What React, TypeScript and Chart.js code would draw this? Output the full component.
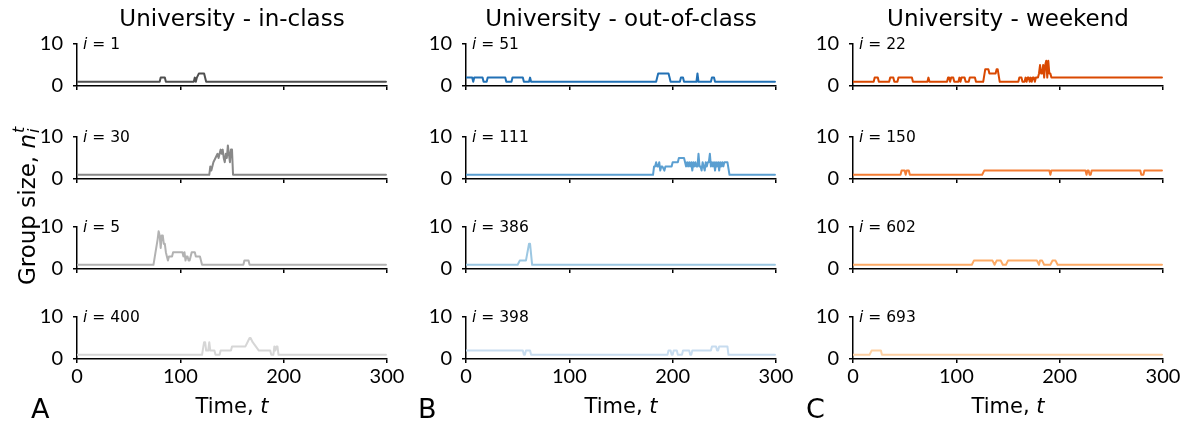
import React, { useEffect, useRef } from 'react';
import { Chart, registerables } from 'chart.js';

Chart.register(...registerables);

type Pt = [number, number];

// Group size n_i(t) of selected individuals, as the corner points [t, n] of each trace.
const inClassI1: Pt[] = [[0,1],[80,1],[81,2],[85,2],[86,1],[113,1],[114,2],[115,1],[116,2],[118,3],[123,3],[125,1],[299,1]];
const inClassI30: Pt[] = [[0,1],[128,1],[129,3],[130,2],[132,4],[134,5],[136,6],[137,5],[139,7],[140,6],[141,7],[142,5],[143,4],[144,6],[145,5],[146,8],[147,6],[148,4],[149,7],[150,7],[151,1],[299,1]];
const inClassI5: Pt[] = [[0,1],[74,1],[76,4],[78,7],[79,9],[80,8],[81,5],[82,8],[83,8],[84,6],[85,6],[86,4],[87,3],[88,2],[89,3],[92,3],[93,4],[102,4],[103,3],[104,4],[105,2],[106,3],[107,3],[108,2],[109,2],[111,4],[114,4],[115,3],[119,3],[121,1],[161,1],[162,2],[166,2],[167,1],[299,1]];
const inClassI400: Pt[] = [[0,1],[121,1],[123,4],[124,4],[125,2],[127,2],[128,4],[129,2],[133,2],[134,1],[138,1],[139,2],[149,2],[150,3],[163,3],[165,4],[167,5],[168,5],[170,4],[173,3],[176,2],[187,2],[188,1],[190,1],[191,3],[192,2],[193,3],[194,3],[195,1],[299,1]];

const outClassI51: Pt[] = [[0,2],[6,2],[7,1],[8,2],[16,2],[17,1],[20,1],[21,2],[38,2],[39,1],[44,1],[45,2],[55,2],[56,1],[61,1],[62,2],[63,1],[184,1],[185,2],[186,3],[196,3],[197,2],[198,1],[207,1],[208,2],[210,2],[211,1],[223,1],[224,3],[225,1],[237,1],[238,2],[240,2],[241,1],[299,1]];
const outClassI111: Pt[] = [[0,1],[181,1],[182,3],[183,3],[184,4],[185,3],[186,3],[187,4],[188,2],[189,3],[190,3],[192,2],[193,3],[199,3],[200,4],[205,4],[206,5],[211,5],[212,4],[213,3],[214,4],[215,3],[216,4],[217,3],[218,4],[219,2],[220,4],[221,3],[222,4],[223,3],[224,3],[225,6],[226,3],[227,3],[228,2],[229,4],[230,3],[231,2],[232,4],[233,3],[234,4],[235,4],[236,6],[237,3],[238,4],[239,3],[240,4],[241,2],[242,4],[243,3],[244,4],[245,2],[246,4],[247,3],[248,4],[249,3],[250,4],[253,4],[255,1],[299,1]];
const outClassI386: Pt[] = [[0,1],[50,1],[52,2],[58,2],[61,6],[62,6],[64,1],[299,1]];
const outClassI398: Pt[] = [[0,2],[55,2],[56,1],[57,1],[58,2],[62,2],[63,1],[195,1],[196,2],[198,2],[199,1],[200,1],[201,2],[204,2],[205,1],[209,1],[210,2],[216,2],[217,1],[218,1],[219,2],[237,2],[238,3],[242,3],[243,2],[244,2],[245,3],[253,3],[254,1],[299,1]];

const weekendI22: Pt[] = [[0,1],[20,1],[21,2],[24,2],[25,1],[35,1],[36,2],[39,2],[40,1],[43,1],[44,2],[57,2],[58,1],[72,1],[73,2],[74,1],[91,1],[92,2],[93,2],[94,1],[95,2],[97,2],[98,1],[102,1],[103,2],[104,1],[105,2],[108,2],[109,1],[112,1],[113,2],[118,2],[119,1],[126,1],[128,4],[131,4],[132,3],[138,3],[139,4],[140,4],[142,1],[160,1],[161,2],[163,2],[164,1],[166,1],[167,2],[168,1],[169,2],[170,2],[171,1],[172,2],[173,1],[174,2],[175,2],[176,1],[177,2],[179,2],[180,3],[181,5],[182,3],[183,3],[184,5],[185,2],[186,5],[187,6],[188,2],[189,6],[190,3],[191,3],[192,2],[299,2]];
const weekendI150: Pt[] = [[0,1],[46,1],[47,2],[50,2],[51,1],[52,2],[54,2],[55,1],[125,1],[127,2],[190,2],[191,1],[192,2],[225,2],[226,1],[227,2],[228,2],[229,1],[230,1],[231,2],[278,2],[279,1],[281,1],[282,2],[299,2]];
const weekendI602: Pt[] = [[0,1],[115,1],[117,2],[135,2],[137,1],[139,2],[143,2],[145,1],[148,1],[150,2],[178,2],[180,1],[181,2],[183,2],[185,1],[191,1],[193,2],[196,2],[198,1],[299,1]];
const weekendI693: Pt[] = [[0,1],[16,1],[18,2],[27,2],[28,1],[299,1]];

const columnTitles = ['University - in-class', 'University - out-of-class', 'University - weekend'];
const columnLetters = ['A', 'B', 'C'];
const columnSeries: Pt[][][] = [
  [inClassI1, inClassI30, inClassI5, inClassI400],
  [outClassI51, outClassI111, outClassI386, outClassI398],
  [weekendI22, weekendI150, weekendI602, weekendI693],
];
const columnIds: number[][] = [
  [1, 30, 5, 400],
  [51, 111, 386, 398],
  [22, 150, 602, 693],
];
const columnColors: string[][] = [
  ['#4f4f4f', '#888888', '#b2b2b2', '#d6d6d6'],
  ['#2271b5', '#5b9fd1', '#9cc7e2', '#c7dcef'],
  ['#d94801', '#f47d33', '#fdab66', '#fdd0a2'],
];

const T_MAX = 300;
const T_STEP = 100;
const N_MAX = 10;

// layout (px)
const PLOT_LEFT = [77, 466, 853];
const PLOT_TOP = [34, 127, 217, 307];
const PLOT_W = 310;
const PLOT_H = 52;
const AX_W = 70;
const AX_H = 40;
const PAD_T = 12;
const PAD_R = 30;
const CANVAS_W = AX_W + PLOT_W + PAD_R;
const CANVAS_H = PAD_T + PLOT_H + AX_H;

const TEXT_FONT = '"DejaVu Sans", sans-serif';
const TICK_FONT = 'Lato';
const TICK_SIZE = 20;

function Panel({ points, color, left, top, showX }: { points: Pt[]; color: string; left: number; top: number; showX: boolean }) {
  const ref = useRef<HTMLCanvasElement>(null);
  useEffect(() => {
    const axisCommon = {
      grid: { display: true, drawOnChartArea: false, drawTicks: true, tickLength: 4, color: '#000', lineWidth: 1.5 },
      border: { display: true, color: '#000', width: 1.5 },
    };
    const chart = new Chart(ref.current!, {
      type: 'line',
      data: {
        datasets: [{
          data: points.map(([x, y]) => ({ x, y })),
          borderColor: color,
          borderWidth: 2,
          borderJoinStyle: 'round',
          borderCapStyle: 'round',
          pointRadius: 0,
          tension: 0,
          fill: false,
        }],
      },
      options: {
        animation: false,
        responsive: false,
        maintainAspectRatio: false,
        events: [],
        layout: { padding: { left: 0, top: PAD_T, right: PAD_R, bottom: 0 } },
        plugins: { legend: { display: false }, tooltip: { enabled: false }, title: { display: false } },
        scales: {
          x: {
            type: 'linear', min: 0, max: T_MAX,
            afterFit: (s: any) => { s.height = AX_H; },
            ...axisCommon,
            ticks: { display: showX, stepSize: T_STEP, color: '#000', font: { family: TICK_FONT, size: TICK_SIZE }, padding: 2, maxRotation: 0, autoSkip: false },
          },
          y: {
            type: 'linear', min: 0, max: N_MAX,
            afterFit: (s: any) => { s.width = AX_W; },
            ...axisCommon,
            ticks: { stepSize: N_MAX, color: '#000', font: { family: TICK_FONT, size: TICK_SIZE }, padding: 10 },
          },
        },
      } as any,
    });
    return () => chart.destroy();
  }, [points, color, showX]);
  return (
    <canvas
      ref={ref}
      width={CANVAS_W}
      height={CANVAS_H}
      style={{ position: 'absolute', left: left - AX_W, top: top - PAD_T, width: CANVAS_W, height: CANVAS_H }}
    />
  );
}

function Text({ x, y, size, children, center = false, style = {} }: any) {
  return (
    <div style={{
      position: 'absolute', left: x, top: y, fontFamily: TEXT_FONT, fontSize: size, lineHeight: 1,
      whiteSpace: 'nowrap', color: '#000', transform: center ? 'translateX(-50%)' : undefined, ...style,
    }}>{children}</div>
  );
}

export default function App() {
  return (
    <div style={{ position: 'fixed', left: 0, top: 0, width: 1193, height: 426, background: '#fff', overflow: 'hidden' }}>
      {columnSeries.map((series, c) => series.map((pts, r) => (
        <Panel key={`${c}-${r}`} points={pts} color={columnColors[c][r]} left={PLOT_LEFT[c]} top={PLOT_TOP[r]} showX={r === 3} />
      )))}
      {columnIds.map((ids, c) => ids.map((id, r) => (
        <Text key={`id-${c}-${r}`} x={PLOT_LEFT[c] + 6} y={PLOT_TOP[r] + 2.5} size={15.5}>
          <span style={{ fontStyle: 'italic' }}>i</span> = {id}
        </Text>
      )))}
      {columnTitles.map((t, c) => (
        <Text key={`t-${c}`} x={PLOT_LEFT[c] + PLOT_W / 2} y={7} size={23} center>{t}</Text>
      ))}
      {columnTitles.map((_, c) => (
        <Text key={`x-${c}`} x={PLOT_LEFT[c] + PLOT_W / 2} y={396} size={21} center>
          Time, <span style={{ fontStyle: 'italic' }}>t</span>
        </Text>
      ))}
      {columnLetters.map((l, c) => (
        <Text key={`l-${c}`} x={[31, 418, 806][c]} y={395} size={27}>{l}</Text>
      ))}
      <div style={{
        position: 'absolute', left: 25, top: 206, fontFamily: TEXT_FONT, fontSize: 23, lineHeight: 1,
        whiteSpace: 'nowrap', transform: 'translate(-50%, -50%) rotate(-90deg)',
      }}>
        Group size, <span style={{ fontStyle: 'italic' }}>n</span>
        <span style={{ display: 'inline-block', position: 'relative', width: 7, height: 23 }}>
          <span style={{ position: 'absolute', left: 1, top: -1, fontSize: 16, lineHeight: 1, fontStyle: 'italic' }}>t</span>
          <span style={{ position: 'absolute', left: 1, top: 14, fontSize: 16, lineHeight: 1, fontStyle: 'italic' }}>i</span>
        </span>
      </div>
    </div>
  );
}
